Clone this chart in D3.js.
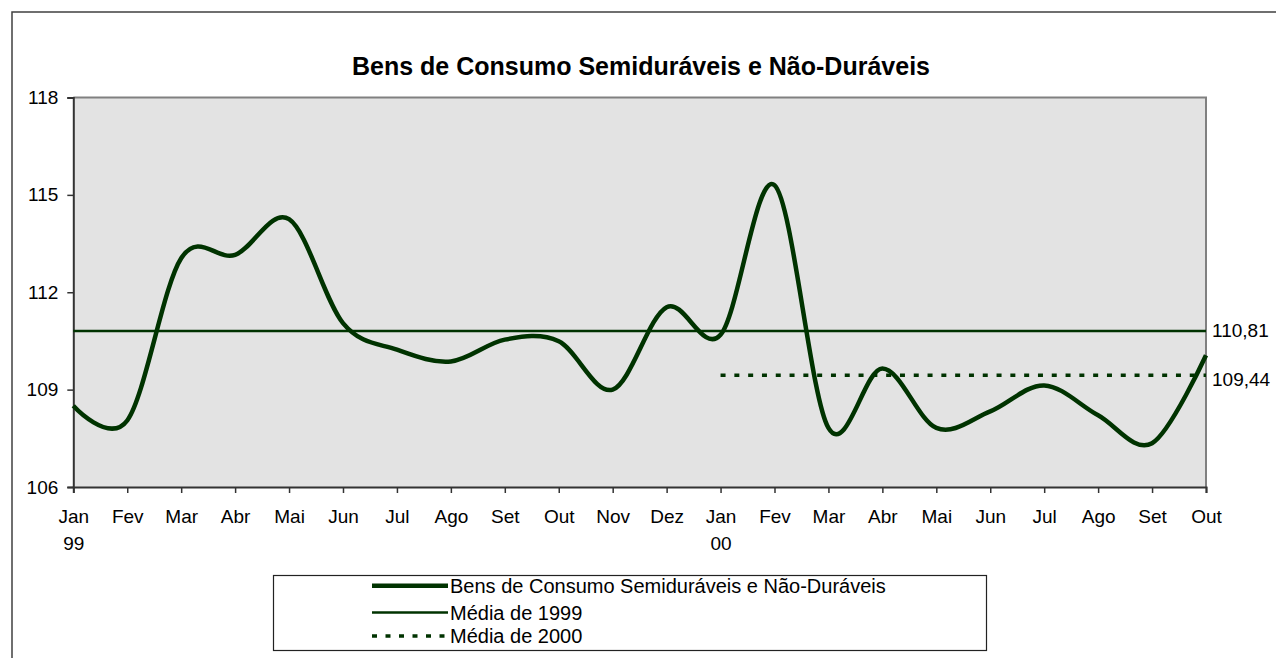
<!DOCTYPE html>
<html>
<head>
<meta charset="utf-8">
<script src="https://cdn.jsdelivr.net/npm/d3@7"></script>
<style>
  html, body { margin: 0; padding: 0; background: #fff; }
  svg { display: block; }
  text { font-family: Arial, "Liberation Sans", sans-serif; fill: #000; }
</style>
</head>
<body>
<svg id="chart" width="1276" height="658"></svg>
<script>
const months = ["Jan","Fev","Mar","Abr","Mai","Jun","Jul","Ago","Set","Out","Nov","Dez",
                "Jan","Fev","Mar","Abr","Mai","Jun","Jul","Ago","Set","Out"];
const yearLabels = ["99","","","","","","","","","","","","00","","","","","","","","",""];
const values = [108.5,108.05,113.05,113.15,114.25,111.05,110.23,109.87,110.54,110.49,109.0,111.54,
                110.69,115.3,107.82,109.65,107.82,108.33,109.13,108.21,107.35,110.06];
const mean1999 = 110.81;
const mean2000 = 109.44;
const mean1999Label = "110,81";
const mean2000Label = "109,44";
const yTicks = [106,109,112,115,118];
const titleText = "Bens de Consumo Semiduráveis e Não-Duráveis";
const legendLabels = ["Bens de Consumo Semiduráveis e Não-Duráveis","Média de 1999","Média de 2000"];

const green = "#003300";
const svg = d3.select("#chart");

const L = 73.3, R = 1206, T = 97.5, B = 487;
const x = d3.scalePoint().domain(d3.range(months.length)).range([L, R]);
const y = d3.scaleLinear().domain([106, 118]).range([B, T]);

// outer chart border
svg.append("rect").attr("x", 12).attr("y", 12).attr("width", 1400).attr("height", 800)
  .attr("fill", "none").attr("stroke", "#404040").attr("stroke-width", 1.5);

// title
svg.append("text").attr("x", 641).attr("y", 75).attr("text-anchor", "middle")
  .attr("font-size", 25).attr("font-weight", "bold").text(titleText);

// plot area
svg.append("rect").attr("x", L).attr("y", T).attr("width", R - L).attr("height", B - T)
  .attr("fill", "#e3e3e3");
svg.append("path").attr("d", `M${L},${T}H${R}V${B}`).attr("fill", "none")
  .attr("stroke", "#808080").attr("stroke-width", 2);

// y axis
const yAxis = d3.axisLeft(y).tickValues(yTicks).tickSize(6).tickPadding(9).tickFormat(d3.format("d"));
const gy = svg.append("g").attr("transform", `translate(${L},0)`).call(yAxis);
gy.select(".domain").attr("stroke", "#333").attr("stroke-width", 2);
gy.selectAll(".tick line").attr("stroke", "#333").attr("stroke-width", 1.5);
gy.selectAll(".tick text").attr("font-size", 19).attr("font-family", "Arial, 'Liberation Sans', sans-serif")
  .attr("fill", "#000");

// x axis
const xAxis = d3.axisBottom(x).tickSize(6).tickPadding(9).tickFormat(i => months[i]);
const gx = svg.append("g").attr("transform", `translate(0,${B})`).call(xAxis);
gx.select(".domain").attr("stroke", "#333").attr("stroke-width", 2);
gx.selectAll(".tick line").attr("stroke", "#333").attr("stroke-width", 1.5);
gx.selectAll(".tick text").attr("font-size", 19).attr("font-family", "Arial, 'Liberation Sans', sans-serif")
  .attr("fill", "#000").attr("dy", null).attr("y", 36)
  .each(function(i) {
    if (yearLabels[i]) {
      d3.select(this).append("tspan").attr("x", 0).attr("y", 63).text(yearLabels[i]);
    }
  });

// mean 1999 line (full width)
svg.append("line").attr("x1", L).attr("x2", R).attr("y1", y(mean1999)).attr("y2", y(mean1999))
  .attr("stroke", green).attr("stroke-width", 2.5);
// mean 2000 dotted (from Jan 00)
svg.append("line").attr("x1", x(12)).attr("x2", R).attr("y1", y(mean2000)).attr("y2", y(mean2000))
  .attr("stroke", green).attr("stroke-width", 3.5).attr("stroke-dasharray", "5,8.8");

// main series
const line = d3.line().x((d, i) => x(i)).y(d => y(d)).curve(d3.curveCatmullRom.alpha(0));
svg.append("path").datum(values).attr("d", line).attr("fill", "none")
  .attr("stroke", green).attr("stroke-width", 4.5).attr("stroke-linejoin", "round");

// mean labels
svg.append("text").attr("x", 1212).attr("y", y(mean1999)).attr("dominant-baseline", "central")
  .attr("font-size", 19).text(mean1999Label);
svg.append("text").attr("x", 1212).attr("y", y(mean2000) + 4).attr("dominant-baseline", "central")
  .attr("font-size", 19).text(mean2000Label);

// legend
const lg = svg.append("g");
lg.append("rect").attr("x", 273.5).attr("y", 575.5).attr("width", 713).attr("height", 75)
  .attr("fill", "#fff").attr("stroke", "#222").attr("stroke-width", 1.2);
const rowsY = [585.7, 612.5, 636];
const styles = [
  {w: 4.5, dash: null},
  {w: 2.5, dash: null},
  {w: 3.5, dash: "5,8.5"}
];
legendLabels.forEach((lab, i) => {
  lg.append("line").attr("x1", 372).attr("x2", 448).attr("y1", rowsY[i]).attr("y2", rowsY[i])
    .attr("stroke", green).attr("stroke-width", styles[i].w)
    .attr("stroke-dasharray", styles[i].dash);
  lg.append("text").attr("x", 450).attr("y", rowsY[i]).attr("dominant-baseline", "central")
    .attr("font-size", 20).text(lab);
});
</script>
</body>
</html>
